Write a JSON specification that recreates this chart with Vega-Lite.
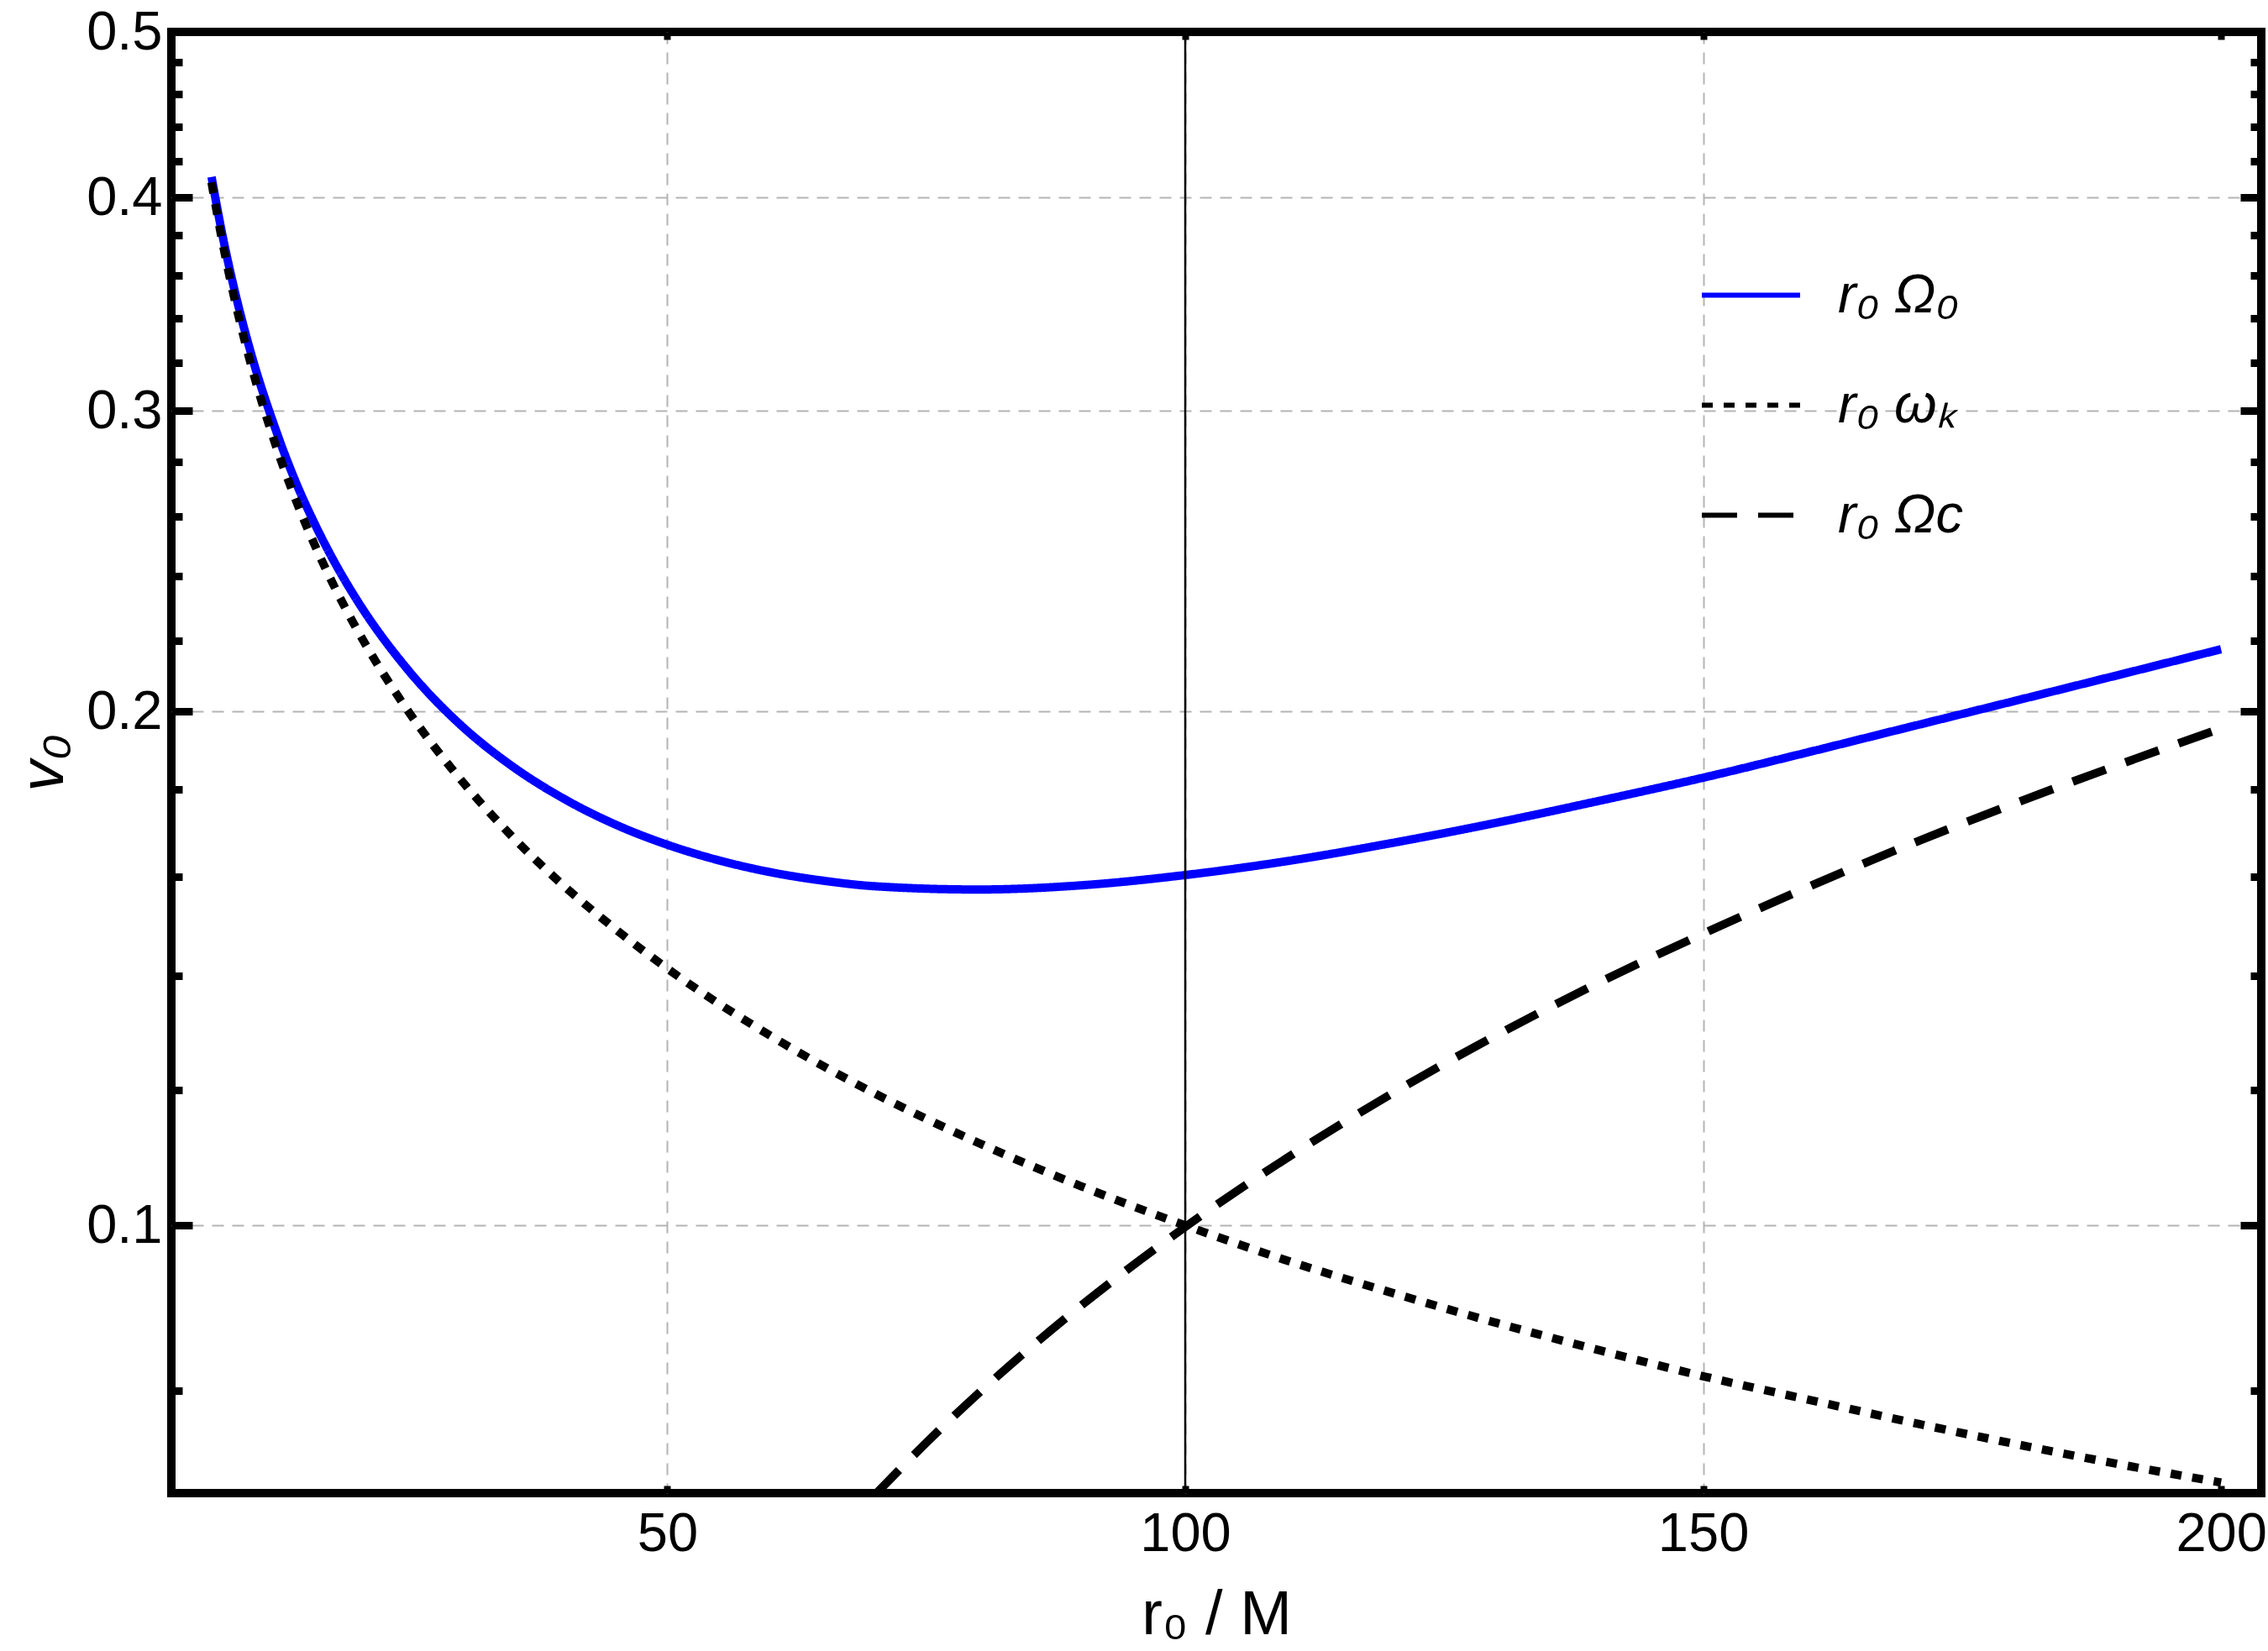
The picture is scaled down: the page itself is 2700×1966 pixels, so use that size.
{
  "$schema": "https://vega.github.io/schema/vega-lite/v6.json",
  "width": 2488,
  "height": 1740,
  "autosize": {"type": "none"},
  "padding": {"left": 204, "top": 38, "right": 8, "bottom": 188},
  "background": "white",
  "datasets": {
    "curves": [
      {"r": 6, "v": 0.4112, "s": "r₀ Ω₀"},
      {"r": 7, "v": 0.3815, "s": "r₀ Ω₀"},
      {"r": 8, "v": 0.3576, "s": "r₀ Ω₀"},
      {"r": 9, "v": 0.3379, "s": "r₀ Ω₀"},
      {"r": 10, "v": 0.3212, "s": "r₀ Ω₀"},
      {"r": 12, "v": 0.2947, "s": "r₀ Ω₀"},
      {"r": 14, "v": 0.2737, "s": "r₀ Ω₀"},
      {"r": 16, "v": 0.2573, "s": "r₀ Ω₀"},
      {"r": 18, "v": 0.2438, "s": "r₀ Ω₀"},
      {"r": 20, "v": 0.2326, "s": "r₀ Ω₀"},
      {"r": 25, "v": 0.2114, "s": "r₀ Ω₀"},
      {"r": 30, "v": 0.1965, "s": "r₀ Ω₀"},
      {"r": 35, "v": 0.1858, "s": "r₀ Ω₀"},
      {"r": 40, "v": 0.1778, "s": "r₀ Ω₀"},
      {"r": 45, "v": 0.1717, "s": "r₀ Ω₀"},
      {"r": 50, "v": 0.1671, "s": "r₀ Ω₀"},
      {"r": 55, "v": 0.1636, "s": "r₀ Ω₀"},
      {"r": 60, "v": 0.1610, "s": "r₀ Ω₀"},
      {"r": 65, "v": 0.1592, "s": "r₀ Ω₀"},
      {"r": 70, "v": 0.1580, "s": "r₀ Ω₀"},
      {"r": 80, "v": 0.1573, "s": "r₀ Ω₀"},
      {"r": 90, "v": 0.1582, "s": "r₀ Ω₀"},
      {"r": 100, "v": 0.1604, "s": "r₀ Ω₀"},
      {"r": 110, "v": 0.1635, "s": "r₀ Ω₀"},
      {"r": 120, "v": 0.1675, "s": "r₀ Ω₀"},
      {"r": 130, "v": 0.1721, "s": "r₀ Ω₀"},
      {"r": 140, "v": 0.1773, "s": "r₀ Ω₀"},
      {"r": 150, "v": 0.1829, "s": "r₀ Ω₀"},
      {"r": 160, "v": 0.1892, "s": "r₀ Ω₀"},
      {"r": 170, "v": 0.1959, "s": "r₀ Ω₀"},
      {"r": 180, "v": 0.2028, "s": "r₀ Ω₀"},
      {"r": 190, "v": 0.2100, "s": "r₀ Ω₀"},
      {"r": 200, "v": 0.2175, "s": "r₀ Ω₀"},
      {"r": 6, "v": 0.4082, "s": "r₀ ωₖ"},
      {"r": 7, "v": 0.3780, "s": "r₀ ωₖ"},
      {"r": 8, "v": 0.3536, "s": "r₀ ωₖ"},
      {"r": 9, "v": 0.3333, "s": "r₀ ωₖ"},
      {"r": 10, "v": 0.3162, "s": "r₀ ωₖ"},
      {"r": 12, "v": 0.2887, "s": "r₀ ωₖ"},
      {"r": 14, "v": 0.2673, "s": "r₀ ωₖ"},
      {"r": 16, "v": 0.2500, "s": "r₀ ωₖ"},
      {"r": 18, "v": 0.2357, "s": "r₀ ωₖ"},
      {"r": 20, "v": 0.2236, "s": "r₀ ωₖ"},
      {"r": 25, "v": 0.2000, "s": "r₀ ωₖ"},
      {"r": 30, "v": 0.1826, "s": "r₀ ωₖ"},
      {"r": 35, "v": 0.1690, "s": "r₀ ωₖ"},
      {"r": 40, "v": 0.1581, "s": "r₀ ωₖ"},
      {"r": 45, "v": 0.1491, "s": "r₀ ωₖ"},
      {"r": 50, "v": 0.1414, "s": "r₀ ωₖ"},
      {"r": 60, "v": 0.1291, "s": "r₀ ωₖ"},
      {"r": 70, "v": 0.1195, "s": "r₀ ωₖ"},
      {"r": 80, "v": 0.1118, "s": "r₀ ωₖ"},
      {"r": 90, "v": 0.1054, "s": "r₀ ωₖ"},
      {"r": 100, "v": 0.1000, "s": "r₀ ωₖ"},
      {"r": 110, "v": 0.0953, "s": "r₀ ωₖ"},
      {"r": 120, "v": 0.0913, "s": "r₀ ωₖ"},
      {"r": 130, "v": 0.0877, "s": "r₀ ωₖ"},
      {"r": 140, "v": 0.0845, "s": "r₀ ωₖ"},
      {"r": 150, "v": 0.0816, "s": "r₀ ωₖ"},
      {"r": 160, "v": 0.0791, "s": "r₀ ωₖ"},
      {"r": 170, "v": 0.0767, "s": "r₀ ωₖ"},
      {"r": 180, "v": 0.0745, "s": "r₀ ωₖ"},
      {"r": 190, "v": 0.0725, "s": "r₀ ωₖ"},
      {"r": 200, "v": 0.0707, "s": "r₀ ωₖ"},
      {"r": 70, "v": 0.0695, "s": "r₀ Ωc"},
      {"r": 75, "v": 0.0746, "s": "r₀ Ωc"},
      {"r": 80, "v": 0.0797, "s": "r₀ Ωc"},
      {"r": 90, "v": 0.0898, "s": "r₀ Ωc"},
      {"r": 100, "v": 0.0998, "s": "r₀ Ωc"},
      {"r": 110, "v": 0.1097, "s": "r₀ Ωc"},
      {"r": 120, "v": 0.1195, "s": "r₀ Ωc"},
      {"r": 130, "v": 0.1292, "s": "r₀ Ωc"},
      {"r": 140, "v": 0.1388, "s": "r₀ Ωc"},
      {"r": 150, "v": 0.1482, "s": "r₀ Ωc"},
      {"r": 160, "v": 0.1577, "s": "r₀ Ωc"},
      {"r": 170, "v": 0.1672, "s": "r₀ Ωc"},
      {"r": 180, "v": 0.1766, "s": "r₀ Ωc"},
      {"r": 190, "v": 0.1860, "s": "r₀ Ωc"},
      {"r": 200, "v": 0.1955, "s": "r₀ Ωc"}
    ],
    "marker": [{"r": 100}]
  },
  "layer": [
    {
      "data": {"name": "curves"},
      "transform": [{"filter": "datum.s === 'r₀ Ω₀'"}],
      "mark": {"type": "line", "strokeWidth": 10, "interpolate": "monotone", "clip": true},
      "encoding": {
        "x": {
          "field": "r",
          "type": "quantitative",
          "scale": {"domain": [2.12, 203.88], "nice": false, "zero": false},
          "axis": {
            "orient": "bottom",
            "values": [50, 100, 150, 200],
            "tickSize": -9,
            "tickWidth": 8,
            "labelFontSize": 65,
            "labelPadding": 26,
            "grid": true,
            "gridOpacity": {"condition": {"test": "datum.value < 175", "value": 1}, "value": 0},
            "title": "r₀ / M",
            "titleFontSize": 74,
            "titleFontWeight": "normal",
            "titlePadding": 28
          }
        },
        "y": {
          "field": "v",
          "type": "quantitative",
          "scale": {"type": "log", "domain": [0.0697, 0.5], "nice": false},
          "axis": {
            "orient": "left",
            "values": [0.08, 0.1, 0.12, 0.14, 0.16, 0.18, 0.2, 0.22, 0.24, 0.26, 0.28, 0.3, 0.32, 0.34, 0.36, 0.38, 0.4, 0.42, 0.44, 0.46, 0.48, 0.5],
            "tickSize": {"condition": {"test": "abs(datum.value * 10 - round(datum.value * 10)) < 0.001", "value": -25}, "value": -13},
            "tickWidth": 9,
            "labelExpr": "abs(datum.value * 10 - round(datum.value * 10)) < 0.001 ? format(datum.value, '.1f') : ''",
            "labelFontSize": 65,
            "labelPadding": 36,
            "grid": true,
            "gridOpacity": {"condition": {"test": "abs(datum.value * 10 - round(datum.value * 10)) < 0.001 && datum.value < 0.45", "value": 1}, "value": 0},
            "title": "v₀",
            "titleFontSize": 74,
            "titleFontStyle": "italic",
            "titleFontWeight": "normal",
            "titlePadding": 12
          }
        },
        "color": {
          "field": "s",
          "type": "nominal",
          "scale": {"domain": ["r₀ Ω₀", "r₀ ωₖ", "r₀ Ωc"], "range": ["#0000ff", "#000000", "#000000"]}
        },
        "strokeDash": {
          "field": "s",
          "type": "nominal",
          "scale": {"domain": ["r₀ Ω₀", "r₀ ωₖ", "r₀ Ωc"], "range": [[1, 0], [13, 13], [42, 25]]}
        }
      }
    },
    {
      "data": {"name": "curves"},
      "transform": [{"filter": "datum.s === 'r₀ ωₖ'"}],
      "mark": {"type": "line", "strokeWidth": 10, "interpolate": "monotone", "clip": true},
      "encoding": {
        "x": {"field": "r", "type": "quantitative", "scale": {"domain": [2.12, 203.88], "nice": false, "zero": false}, "axis": null},
        "y": {
          "field": "v",
          "type": "quantitative",
          "scale": {"type": "log", "domain": [0.0697, 0.5], "nice": false},
          "axis": {
            "orient": "right",
            "values": [0.08, 0.1, 0.12, 0.14, 0.16, 0.18, 0.2, 0.22, 0.24, 0.26, 0.28, 0.3, 0.32, 0.34, 0.36, 0.38, 0.4, 0.42, 0.44, 0.46, 0.48, 0.5],
            "tickSize": {"condition": {"test": "abs(datum.value * 10 - round(datum.value * 10)) < 0.001", "value": -25}, "value": -13},
            "tickWidth": 9,
            "labels": false,
            "grid": false,
            "title": null
          }
        },
        "color": {"field": "s", "type": "nominal"},
        "strokeDash": {"field": "s", "type": "nominal"}
      }
    },
    {
      "data": {"name": "curves"},
      "transform": [{"filter": "datum.s === 'r₀ Ωc'"}],
      "mark": {"type": "line", "strokeWidth": 10, "interpolate": "monotone", "clip": true},
      "encoding": {
        "x": {"field": "r", "type": "quantitative", "scale": {"domain": [2.12, 203.88], "nice": false, "zero": false}, "axis": null},
        "y": {"field": "v", "type": "quantitative", "scale": {"type": "log", "domain": [0.0697, 0.5], "nice": false}, "axis": null},
        "color": {"field": "s", "type": "nominal"},
        "strokeDash": {"field": "s", "type": "nominal"}
      }
    },
    {
      "data": {"name": "marker"},
      "mark": {"type": "rule", "color": "black", "strokeWidth": 2.5},
      "encoding": {
        "x": {
          "field": "r",
          "type": "quantitative",
          "scale": {"domain": [2.12, 203.88], "nice": false, "zero": false},
          "axis": {
            "orient": "top",
            "values": [50, 100, 150, 200],
            "tickSize": -9,
            "tickWidth": 8,
            "labels": false,
            "grid": false,
            "title": null
          }
        }
      }
    }
  ],
  "resolve": {"axis": {"x": "independent", "y": "independent"}},
  "config": {
    "view": {"stroke": "black", "strokeWidth": 10},
    "font": "Liberation Sans",
    "axis": {
      "domain": false,
      "tickColor": "black",
      "labelColor": "black",
      "titleColor": "black",
      "labelFont": "Liberation Sans",
      "titleFont": "Liberation Sans",
      "gridColor": "#b4b4b4",
      "gridDash": [14, 10],
      "gridWidth": 2,
      "labelOverlap": false,
      "labelBound": false,
      "labelFlush": false
    },
    "legend": {
      "orient": "none",
      "legendX": 1819,
      "legendY": 252,
      "title": null,
      "padding": 0,
      "symbolType": "stroke",
      "symbolSize": 13689,
      "symbolStrokeWidth": 6,
      "labelFont": "Liberation Sans",
      "labelFontSize": 65,
      "labelFontStyle": "italic",
      "labelColor": "black",
      "labelOffset": 42,
      "labelLimit": 0,
      "rowPadding": 36
    }
  }
}
